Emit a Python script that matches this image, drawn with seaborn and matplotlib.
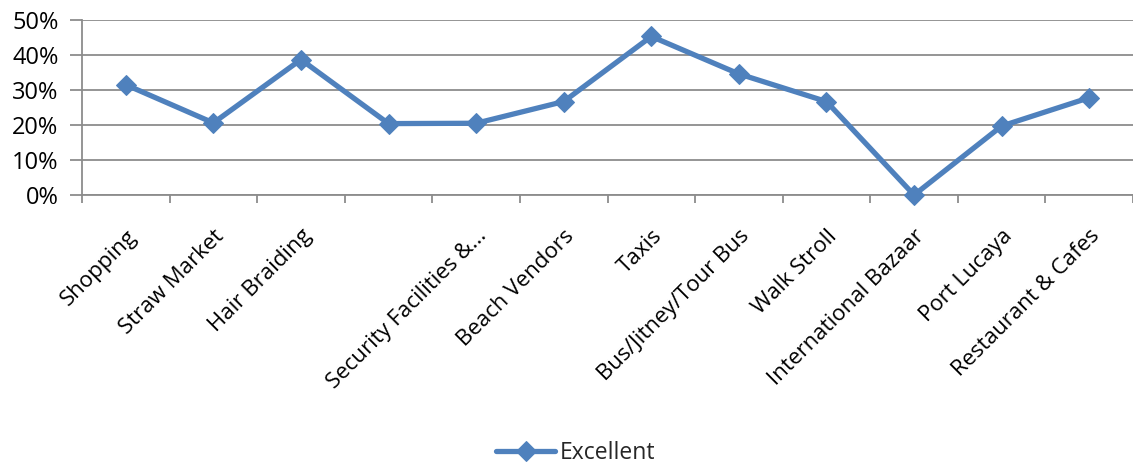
import matplotlib
matplotlib.use("Agg")
import matplotlib.pyplot as plt
import seaborn as sns
import numpy as np
from matplotlib.ticker import FixedLocator, FuncFormatter

categories = ["Shopping", "Straw Market", "Hair Braiding", "", "Security Facilities &...",
              "Beach Vendors", "Taxis", "Bus/Jitney/Tour Bus", "Walk Stroll",
              "International Bazaar", "Port Lucaya", "Restaurant & Cafes"]
excellent = [0.315, 0.206, 0.387, 0.204, 0.205, 0.267, 0.453, 0.346, 0.267, 0.0, 0.197, 0.278]
y_ticks = [0.0, 0.1, 0.2, 0.3, 0.4, 0.5]
series_name = "Excellent"

sns.set_theme(style="white")
plt.rcParams['font.family'] = ['Open Sans', 'DejaVu Sans']

fig = plt.figure(figsize=(11.33, 4.66), dpi=100)
ax = fig.add_axes([82/1133, 1 - 195/466, 1 - 82/1133, (195-20)/466])

x = np.arange(len(categories))
sns.lineplot(x=x, y=excellent, ax=ax, color="#4F81BD", linewidth=3.8,
             marker="D", markersize=10.5, markeredgecolor="#4F81BD",
             label=series_name, clip_on=False, zorder=5)

ax.set_xlim(-0.5, len(categories) - 0.5)
ax.set_ylim(0, 0.5)
ax.yaxis.set_major_locator(FixedLocator(y_ticks))
ax.yaxis.set_major_formatter(FuncFormatter(lambda v, p: f"{v*100:.0f}%"))
ax.grid(axis="y", color="#8C8C8C", linewidth=1.3)
ax.set_axisbelow(True)

ax.set_xticks(x)
ax.set_xticklabels(categories, rotation=45, ha="right", rotation_mode="anchor")
ax.xaxis.set_minor_locator(FixedLocator(np.arange(-0.5, len(categories), 1.0)))
ax.tick_params(axis="x", which="major", length=0, pad=22, labelsize=16, labelcolor="black")
ax.tick_params(axis="x", which="minor", length=6, width=1.3, color="#8C8C8C", direction="out", bottom=True)
ax.tick_params(axis="y", which="major", length=9, width=1.3, color="#8C8C8C", direction="out",
               left=True, labelsize=17, labelcolor="black", pad=8)

for s in ["top", "right"]:
    ax.spines[s].set_visible(False)
for s in ["left", "bottom"]:
    ax.spines[s].set_color("#8C8C8C")
    ax.spines[s].set_linewidth(1.3)

ax.get_legend().remove()
handles, labels = ax.get_legend_handles_labels()
fig.legend(handles, labels, loc="center", bbox_to_anchor=(0.508, 0.028), frameon=False,
           fontsize=16.5, handlelength=2.6, handletextpad=0.2)

fig.savefig("out.png", dpi=100)
